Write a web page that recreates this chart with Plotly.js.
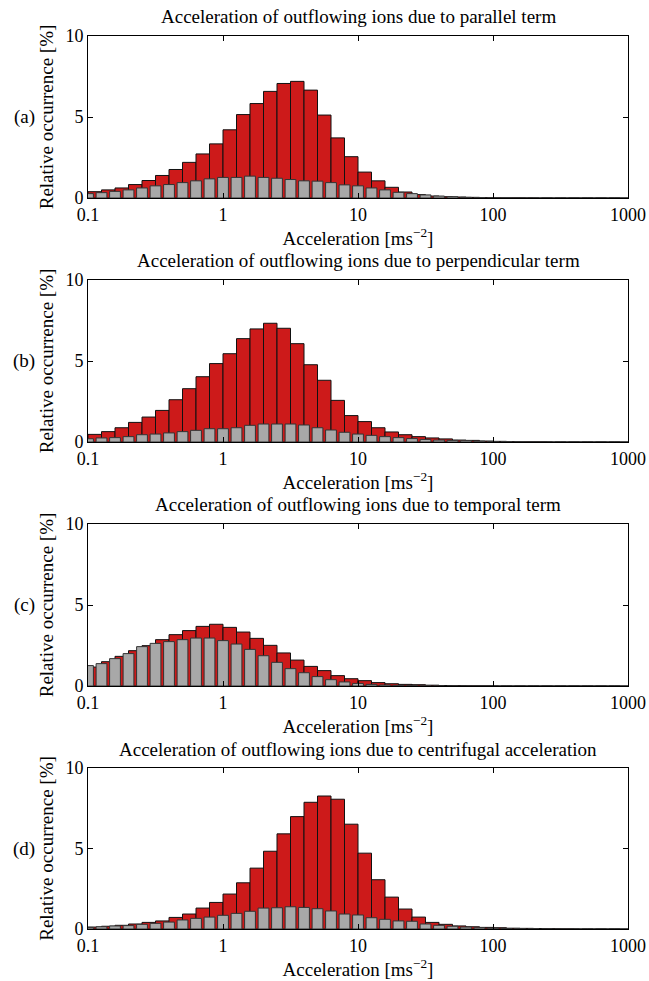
<!DOCTYPE html>
<html>
<head>
<meta charset="utf-8">
<script src="https://cdn.plot.ly/plotly-3.0.1.min.js"></script>
<style>html,body{margin:0;padding:0;background:#fff;}#chart{width:649px;height:981px;}</style>
</head>
<body>
<div id="chart"></div>
<script>
// Bins: 10 logarithmic bins per decade from 0.1 to 1000 (40 bins)
var binsPerDecade = 10;
var firstDecade = -1;
var nBins = 40;

var panelTitles = [
  "Acceleration of outflowing ions due to parallel term",
  "Acceleration of outflowing ions due to perpendicular term",
  "Acceleration of outflowing ions due to temporal term",
  "Acceleration of outflowing ions due to centrifugal acceleration"
];
var panelLabels = ["(a)", "(b)", "(c)", "(d)"];

var xTickVals = [0.1, 1, 10, 100, 1000];
var xTickText = ["0.1", "1", "10", "100", "1000"];
var yTickVals = [0, 5, 10];
var yTickText = ["0", "5", "10"];

// Red series (bars spanning each bin), relative occurrence in %
var redA = [0.39,0.50,0.62,0.83,1.08,1.39,1.76,2.20,2.72,3.34,4.21,5.15,5.83,6.58,7.07,7.20,6.66,5.12,3.71,2.55,1.60,1.06,0.66,0.37,0.21,0.12,0.08,0.06,0.04,0.02,0.01,0.01,0.005,0,0,0,0,0,0,0];
var redB = [0.47,0.64,0.88,1.21,1.54,1.95,2.61,3.29,4.03,4.84,5.45,6.38,6.98,7.33,7.02,6.07,4.77,3.81,2.57,1.63,1.26,0.88,0.62,0.45,0.33,0.25,0.19,0.12,0.10,0.06,0.04,0.02,0.01,0.01,0,0,0,0,0,0];
var redC = [1.17,1.50,1.83,2.18,2.49,2.86,3.17,3.42,3.68,3.81,3.62,3.33,2.94,2.51,2.04,1.60,1.21,0.95,0.64,0.45,0.33,0.21,0.14,0.10,0.08,0.05,0.03,0.02,0.01,0.01,0,0,0,0,0,0,0,0,0,0];
var redD = [0.12,0.17,0.23,0.31,0.41,0.50,0.72,0.93,1.30,1.65,2.17,2.87,3.78,4.83,5.91,6.98,7.87,8.26,8.06,6.51,4.71,3.06,1.98,1.24,0.74,0.41,0.29,0.19,0.14,0.10,0.08,0.05,0.04,0.03,0.02,0.01,0,0,0,0];

// Gray series (narrower bars centred on bin edges), relative occurrence in %
var grayA = [0.27,0.33,0.41,0.50,0.62,0.75,0.83,0.95,1.06,1.18,1.27,1.27,1.35,1.27,1.22,1.14,1.06,1.04,0.95,0.81,0.75,0.62,0.50,0.35,0.27,0.19,0.12,0.08,0.04,0.02,0.01,0.01,0,0,0,0,0,0,0,0];
var grayB = [0.20,0.25,0.27,0.33,0.45,0.49,0.56,0.64,0.72,0.82,0.82,0.88,1.03,1.11,1.11,1.11,1.05,0.88,0.74,0.60,0.49,0.41,0.33,0.27,0.21,0.16,0.12,0.10,0.08,0.05,0.03,0.02,0.01,0,0,0,0,0,0,0];
var grayC = [1.26,1.38,1.69,2.00,2.43,2.63,2.74,2.86,2.96,2.96,2.80,2.59,2.26,1.87,1.46,1.07,0.82,0.58,0.39,0.25,0.16,0.10,0.06,0.04,0.02,0.01,0,0,0,0,0,0,0,0,0,0,0,0,0,0];
var grayD = [0.10,0.14,0.19,0.21,0.29,0.35,0.43,0.56,0.66,0.74,0.85,0.97,1.10,1.30,1.32,1.38,1.34,1.26,1.12,0.93,0.87,0.70,0.60,0.50,0.48,0.31,0.23,0.17,0.12,0.08,0.05,0.03,0.02,0.01,0,0,0,0,0,0];

var redSeries = [redA, redB, redC, redD];
var graySeries = [grayA, grayB, grayC, grayD];

// ---- geometry / style ----
var W = 649, H = 981;
var plotLeft = 88, plotRight = 628;
var panelPx = [[36,198],[280,442],[524,686],[768,929]];
var fontFam = "Liberation Serif, Times New Roman, Times, serif";
var titleSize = 19, tickSize = 18;
var redFill = "#cd1a1a", grayFill = "#a8a8a8";
var grayFrac = 0.8;

var edges = [];
for (var k = 0; k <= nBins; k++) edges.push(Math.pow(10, firstDecade + k / binsPerDecade));
var halfG = Math.pow(10, grayFrac / (2 * binsPerDecade));

var traces = [];
var layout = {
  width: W, height: H,
  margin: {l: 0, r: 0, t: 0, b: 0},
  paper_bgcolor: "#fff", plot_bgcolor: "#fff",
  barmode: "overlay",
  showlegend: false,
  font: {family: fontFam, size: tickSize, color: "#000"},
  annotations: []
};

for (var p = 0; p < 4; p++) {
  var sfx = p === 0 ? "" : String(p + 1);
  var xa = "x" + sfx, ya = "y" + sfx;
  var red = redSeries[p], gray = graySeries[p];
  var rx = [], rw = [], ro = [], gx = [], gw = [], go = [];
  for (var i = 0; i < nBins; i++) {
    rx.push(edges[i]); ro.push(0); rw.push(edges[i + 1] - edges[i]);
    var c = edges[i];
    gx.push(c); go.push(c / halfG - c); gw.push(c * halfG - c / halfG);
  }
  traces.push({
    type: "bar", x: rx, y: red, width: rw, offset: ro,
    xaxis: xa, yaxis: ya,
    marker: {color: redFill, line: {color: "#111", width: 1}},
    hoverinfo: "x+y"
  });
  traces.push({
    type: "bar", x: gx, y: gray, width: gw, offset: go,
    xaxis: xa, yaxis: ya,
    marker: {color: grayFill, line: {color: "#333", width: 1}},
    hoverinfo: "x+y"
  });

  var pTop = panelPx[p][0], pBot = panelPx[p][1];
  layout["xaxis" + sfx] = {
    type: "log", range: [-1, 3],
    domain: [plotLeft / W, plotRight / W],
    anchor: ya,
    tickmode: "array", tickvals: xTickVals, ticktext: xTickText,
    ticks: "inside", ticklen: 5, tickcolor: "#000", tickwidth: 1,
    showline: true, linecolor: "#000", linewidth: 1, mirror: "ticks",
    showgrid: false, zeroline: false,
    tickfont: {family: fontFam, size: tickSize, color: "#000"},
    title: {text: "Acceleration [ms<sup>\u22122</sup>]", font: {family: fontFam, size: titleSize, color: "#000"}, standoff: 2}
  };
  layout["yaxis" + sfx] = {
    range: [0, 10],
    domain: [1 - pBot / H, 1 - pTop / H],
    anchor: xa,
    tickmode: "array", tickvals: yTickVals, ticktext: yTickText,
    ticks: "inside", ticklen: 5, tickcolor: "#000", tickwidth: 1,
    showline: true, linecolor: "#000", linewidth: 1, mirror: "ticks",
    showgrid: false, zeroline: false,
    tickfont: {family: fontFam, size: tickSize, color: "#000"},
    title: {text: "Relative occurrence [%]", font: {family: fontFam, size: titleSize, color: "#000"}, standoff: 6}
  };
  layout.annotations.push({
    xref: "paper", yref: "paper",
    x: ((plotLeft + plotRight) / 2) / W, y: 1 - (pTop - 19) / H,
    xanchor: "center", yanchor: "middle",
    text: panelTitles[p], showarrow: false,
    font: {family: fontFam, size: titleSize, color: "#000"}
  });
  layout.annotations.push({
    xref: "paper", yref: "paper",
    x: 24 / W, y: 1 - ((pTop + pBot) / 2) / H,
    xanchor: "center", yanchor: "middle",
    text: panelLabels[p], showarrow: false,
    font: {family: fontFam, size: titleSize, color: "#000"}
  });
}

Plotly.newPlot("chart", traces, layout, {displayModeBar: false, staticPlot: true});
</script>
</body>
</html>
